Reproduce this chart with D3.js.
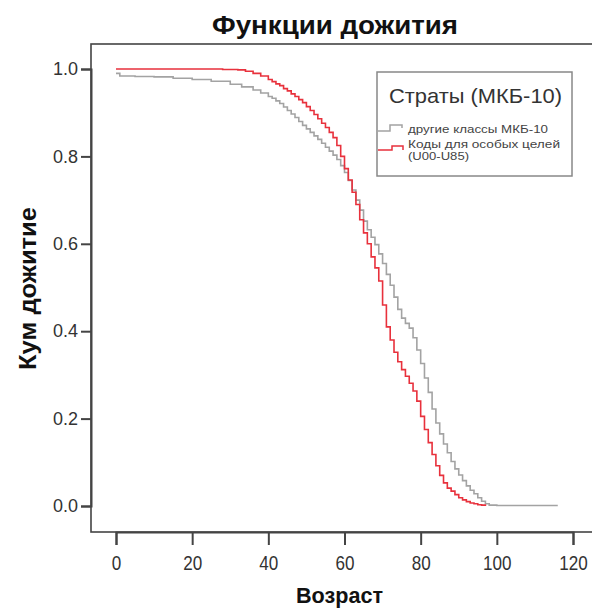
<!DOCTYPE html>
<html><head><meta charset="utf-8">
<script src="https://cdn.jsdelivr.net/npm/d3@7"></script>
<style>body{margin:0;background:#fff}svg{display:block}</style>
</head><body>
<svg id="c" width="592" height="608"></svg>
<script>
const xTicks = [0, 20, 40, 60, 80, 100, 120];
const yTicks = [0.0, 0.2, 0.4, 0.6, 0.8, 1.0];
const seriesNames = ["другие классы МКБ-10", "Коды для особых целей", "(U00-U85)"];

const otherAges = [0,1,5,10,15,20,25,30,33,36,38,40,41,42,43,44,45,46,47,48,49,50,51,52,53,54,55,56,57,58,59,60,61,62,63,64,65,66,67,68,69,70,71,72,73,74,75,76,77,78,79,80,81,82,83,84,85,86,87,88,89,90,91,92,93,94,95,96,97,98,100,116];
const otherSurv = [0.990,0.984,0.983,0.982,0.979,0.976,0.972,0.965,0.959,0.952,0.945,0.937,0.933,0.927,0.921,0.913,0.905,0.897,0.889,0.880,0.871,0.863,0.855,0.847,0.839,0.830,0.821,0.812,0.803,0.793,0.779,0.763,0.745,0.723,0.700,0.677,0.652,0.632,0.615,0.598,0.577,0.555,0.530,0.505,0.478,0.450,0.430,0.418,0.407,0.385,0.357,0.326,0.293,0.260,0.222,0.190,0.165,0.142,0.122,0.102,0.085,0.071,0.058,0.046,0.036,0.028,0.019,0.011,0.005,0.002,0.001,0.001];

const specialAges = [0,27,28,30,32,34,36,38,40,41,42,43,44,45,46,47,48,49,50,51,52,53,54,55,56,57,58,59,60,61,62,63,64,65,66,67,68,69,70,71,72,73,74,75,76,77,78,79,80,81,82,83,84,85,86,87,88,89,90,91,92,93,94,95,96,97];
const specialSurv = [1.000,1.000,0.999,0.999,0.998,0.995,0.990,0.984,0.976,0.971,0.966,0.962,0.955,0.950,0.943,0.937,0.930,0.923,0.914,0.905,0.896,0.886,0.876,0.866,0.855,0.843,0.825,0.800,0.772,0.746,0.718,0.690,0.655,0.625,0.600,0.570,0.545,0.515,0.460,0.410,0.380,0.352,0.330,0.312,0.297,0.281,0.263,0.240,0.205,0.175,0.145,0.118,0.092,0.070,0.053,0.041,0.034,0.026,0.019,0.014,0.010,0.007,0.005,0.003,0.002,0.000];

const svg = d3.select("#c");
const F = "'Liberation Sans', Arial, sans-serif";
const x = d3.scaleLinear().domain([0,120]).range([116,573]);
const y = d3.scaleLinear().domain([0,1]).range([506,69]);
const pLeft = 91, pTop = 44, pBottom = 532;

// frame
svg.append("rect").attr("x",pLeft).attr("y",pTop).attr("width",600-pLeft).attr("height",pBottom-pTop)
  .attr("fill","none").attr("stroke","#444").attr("stroke-width",1.6);

// axes
const ya = svg.append("g").attr("transform",`translate(${pLeft},0)`)
  .call(d3.axisLeft(y).tickValues(yTicks).tickFormat(d3.format(".1f")).tickSize(10).tickPadding(3));
const xa = svg.append("g").attr("transform",`translate(0,${pBottom})`)
  .call(d3.axisBottom(x).tickValues(xTicks).tickSize(13).tickPadding(11));
[ya,xa].forEach(g=>{
  g.select(".domain").attr("stroke","#444").attr("stroke-width",2);
  g.selectAll(".tick line").attr("stroke","#444").attr("stroke-width",2);
  g.selectAll("text").attr("font-family",F).attr("fill","#333");
});
ya.selectAll("text").attr("font-size",18).attr("textLength",25).attr("lengthAdjust","spacingAndGlyphs");
xa.selectAll("text").attr("font-size",20).each(function(d){
  d3.select(this).attr("textLength", String(d).length*9.5).attr("lengthAdjust","spacingAndGlyphs");
});

const line = d3.line().x(d=>x(d[0])).y(d=>y(d[1])).curve(d3.curveStepAfter);
svg.append("path").datum(d3.zip(otherAges, otherSurv)).attr("d",line)
  .attr("fill","none").attr("stroke","#a3a3a3").attr("stroke-width",1.6);
svg.append("path").datum(d3.zip(specialAges, specialSurv)).attr("d",line)
  .attr("fill","none").attr("stroke","#e8313c").attr("stroke-width",1.6);

// titles
svg.append("text").attr("x",212).attr("y",34)
  .attr("font-family",F).attr("font-weight","bold").attr("font-size",25).attr("fill","#111")
  .attr("textLength",246).attr("lengthAdjust","spacingAndGlyphs").text("Функции дожития");
svg.append("text").attr("transform","translate(36,370) rotate(-90)")
  .attr("font-family",F).attr("font-weight","bold").attr("font-size",23).attr("fill","#111")
  .attr("textLength",163).attr("lengthAdjust","spacingAndGlyphs").text("Кум дожитие");
svg.append("text").attr("x",296).attr("y",603)
  .attr("font-family",F).attr("font-weight","bold").attr("font-size",22).attr("fill","#111")
  .attr("textLength",87).attr("lengthAdjust","spacingAndGlyphs").text("Возраст");

// legend
const lg = svg.append("g");
lg.append("rect").attr("x",377).attr("y",72).attr("width",195).attr("height",104)
  .attr("fill","#fff").attr("stroke","#888").attr("stroke-width",1.5);
lg.append("text").attr("x",389).attr("y",103)
  .attr("font-family",F).attr("font-size",21).attr("fill","#333")
  .attr("textLength",173).attr("lengthAdjust","spacingAndGlyphs").text("Страты (МКБ-10)");
const sym = d3.line();
lg.append("path").attr("d",sym([[378,131],[390,131],[390,125],[402,125],[402,128]]))
  .attr("fill","none").attr("stroke","#a3a3a3").attr("stroke-width",1.5);
lg.append("path").attr("d",sym([[378,150],[392,150],[392,146],[403,146],[403,150]]))
  .attr("fill","none").attr("stroke","#e8313c").attr("stroke-width",1.5);
const itemLen = [140, 152, 61];
const itemY = [133, 148, 160];
seriesNames.forEach((t,i)=>{
  lg.append("text").attr("x",408).attr("y",itemY[i]).attr("font-family",F).attr("font-size",10.5).attr("fill","#444")
    .attr("textLength",itemLen[i]).attr("lengthAdjust","spacingAndGlyphs").text(t);
});
</script>
</body></html>
